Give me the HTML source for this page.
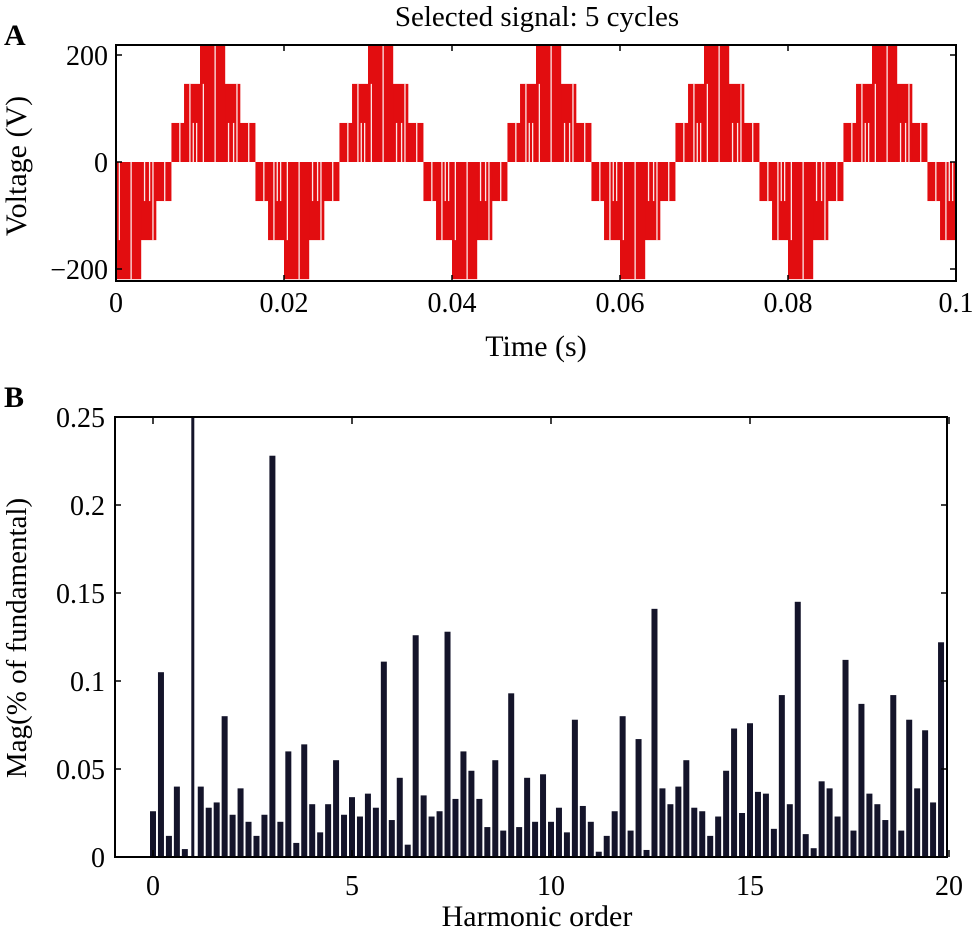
<!DOCTYPE html>
<html><head><meta charset="utf-8"><style>
html,body{margin:0;padding:0;background:#fff;}
svg{display:block;font-family:"Liberation Serif",serif;}
</style></head><body>
<svg id="fig" width="975" height="937" viewBox="0 0 975 937">
<text x="4" y="45" font-size="30" font-weight="bold">A</text>
<text x="537" y="26" font-size="29" text-anchor="middle">Selected signal: 5 cycles</text>
<g id="wave"></g>
<rect x="116" y="45" width="840" height="236" fill="none" stroke="#000" stroke-width="2"/>
<g id="axA"></g>
<text x="536" y="356" font-size="30" text-anchor="middle">Time (s)</text>
<text transform="translate(26,166) rotate(-90)" font-size="30" text-anchor="middle">Voltage (V)</text>

<text x="4" y="407" font-size="30" font-weight="bold">B</text>
<g id="bars"></g>
<rect x="115" y="417" width="832" height="440" fill="none" stroke="#000" stroke-width="2"/>
<g id="axB"></g>
<text x="537" y="926" font-size="30" text-anchor="middle">Harmonic order</text>
<text transform="translate(26,638) rotate(-90)" font-size="29" text-anchor="middle">Mag(% of fundamental)</text>
</svg>
<script>
// ---- Panel A data ----
const levelVolts = [73, 146, 219];
const levelStart = [0.0, 0.075, 0.17];   // fraction of period (positive half starts at 0)
const levelEnd = [0.5, 0.41, 0.32];
const period = 0.02;
const firstRise = 0.0066;
const gapFracs = [0.05,0.11,0.13,0.15,0.19,0.26,0.34,0.37,0.39,0.46];
const gapLevels = [0,1,0,0,1,2,0,0,1,0];
const tTicks = [0, 0.02, 0.04, 0.06, 0.08, 0.1];
const tTickLabels = ["0","0.02","0.04","0.06","0.08","0.1"];
const vTicks = [200, 0, -200];
const vTickLabels = ["200","0","\u2212200"];

// ---- Panel B data ----
const harmonics = [];
for (let i = 0; i < 100; i++) harmonics.push(+(i * 0.2).toFixed(1));
const magnitudes = [0.026,0.105,0.012,0.040,0.0045,0.30,0.040,0.028,0.031,0.080,
0.024,0.039,0.020,0.012,0.024,0.228,0.020,0.060,0.008,0.064,
0.030,0.014,0.030,0.055,0.024,0.034,0.023,0.036,0.028,0.111,
0.021,0.045,0.007,0.126,0.035,0.023,0.026,0.128,0.033,0.060,
0.049,0.033,0.017,0.055,0.015,0.093,0.017,0.045,0.020,0.047,
0.020,0.028,0.014,0.078,0.029,0.020,0.003,0.012,0.026,0.080,
0.015,0.067,0.004,0.141,0.039,0.030,0.040,0.055,0.028,0.026,
0.012,0.023,0.049,0.073,0.025,0.076,0.037,0.036,0.016,0.092,
0.030,0.145,0.013,0.005,0.043,0.039,0.023,0.112,0.015,0.087,
0.036,0.030,0.021,0.092,0.015,0.078,0.039,0.072,0.031,0.122];
const hTicks = [0,5,10,15,20];
const mTicks = [0,0.05,0.1,0.15,0.2,0.25];
const mTickLabels = ["0","0.05","0.1","0.15","0.2","0.25"];

const NS = "http://www.w3.org/2000/svg";
function mk(tag, attrs, parent){const e=document.createElementNS(NS,tag);for(const k in attrs)e.setAttribute(k,attrs[k]);parent.appendChild(e);return e;}

// Scales A
const xA = t => 116 + t * 8400;
const yA = v => 162 - v * 107 / 200;
const wave = document.getElementById('wave');
const clipA = mk('clipPath',{id:'clipA'},document.getElementById('fig'));
mk('rect',{x:116,y:45,width:840,height:236},clipA);
wave.setAttribute('clip-path','url(#clipA)');
for (let c = -1; c <= 5; c++) {
  const t0 = firstRise + c * period;
  for (let s = 0; s < 2; s++) {
    const sign = s === 0 ? 1 : -1;
    const base = t0 + s * period / 2;
    for (let l = 0; l < levelVolts.length; l++) {
      const a = xA(base + levelStart[l] * period), b = xA(base + levelEnd[l] * period);
      const y1 = yA(sign * levelVolts[l]), y0 = yA(0);
      const r = mk('rect',{x:a,y:Math.min(y1,y0),width:b-a,height:Math.abs(y1-y0),fill:'#e20d10'},wave);
      
      
    }
    for (let g = 0; g < gapFracs.length; g++) {
      const gx = xA(base + gapFracs[g] * period);
      const ln = mk('line',{x1:gx,x2:gx,y1:yA(0),y2:yA(sign*levelVolts[gapLevels[g]]),stroke:'#fff','stroke-width':1.3,opacity:0.9},wave);
      
      
    }
  }
}
const axA = document.getElementById('axA');
tTicks.forEach((t,i)=>{
  const x = xA(t);
  mk('line',{x1:x,x2:x,y1:45,y2:51,stroke:'#000','stroke-width':1.5},axA);
  mk('line',{x1:x,x2:x,y1:281,y2:275,stroke:'#000','stroke-width':1.5},axA);
  const tx = mk('text',{x:x,y:312,'font-size':28,'text-anchor':'middle'},axA);
  tx.textContent = tTickLabels[i];
  
  
});
vTicks.forEach((v,i)=>{
  const y = yA(v);
  mk('line',{x1:116,x2:122,y1:y,y2:y,stroke:'#000','stroke-width':1.5},axA);
  mk('line',{x1:956,x2:950,y1:y,y2:y,stroke:'#000','stroke-width':1.5},axA);
  const tx = mk('text',{x:108,y:y+10,'font-size':28,'text-anchor':'end'},axA);
  tx.textContent = vTickLabels[i];
  
  
});

// Scales B
const xB = h => 153 + h * 39.8;
const yB = m => 857 - m * 1760;
const bars = document.getElementById('bars');
const clipB = mk('clipPath',{id:'clipB'},document.getElementById('fig'));
mk('rect',{x:115,y:417,width:832,height:440},clipB);
bars.setAttribute('clip-path','url(#clipB)');
harmonics.forEach((h,i)=>{
  const w = h === 1 ? 3 : 6;
  const x = xB(h) - w/2, y = yB(magnitudes[i]);
  const r = mk('rect',{x:x,y:y,width:w,height:857-y,fill:'#14142a'},bars);
  
  
});
const axB = document.getElementById('axB');
hTicks.forEach(h=>{
  const x = xB(h);
  mk('line',{x1:x,x2:x,y1:417,y2:424,stroke:'#000','stroke-width':1.5},axB);
  mk('line',{x1:x,x2:x,y1:857,y2:850,stroke:'#000','stroke-width':1.5},axB);
  const tx = mk('text',{x:x,y:895,'font-size':28,'text-anchor':'middle'},axB);
  tx.textContent = String(h);
  
  
});
mTicks.forEach((m,i)=>{
  const y = yB(m);
  mk('line',{x1:115,x2:121,y1:y,y2:y,stroke:'#000','stroke-width':1.5},axB);
  mk('line',{x1:947,x2:941,y1:y,y2:y,stroke:'#000','stroke-width':1.5},axB);
  const tx = mk('text',{x:105,y:y+10,'font-size':28,'text-anchor':'end'},axB);
  tx.textContent = mTickLabels[i];
  
  
});
</script>
</body></html>
